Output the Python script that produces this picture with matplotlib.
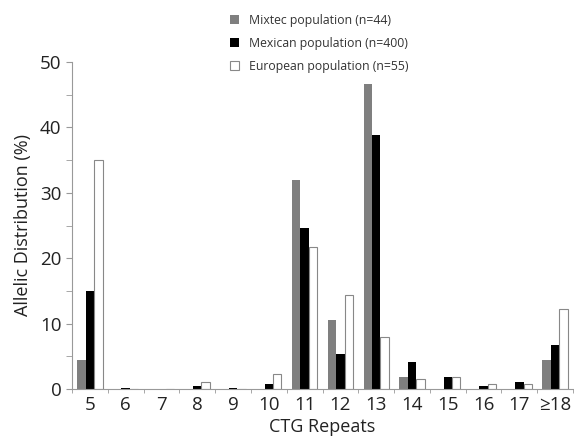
import numpy as np
import matplotlib
matplotlib.use("Agg")
import matplotlib.pyplot as plt
from matplotlib.ticker import MultipleLocator, FixedLocator

plt.rcParams['font.family'] = ['Open Sans', 'DejaVu Sans']

repeats = ['5', '6', '7', '8', '9', '10', '11', '12', '13', '14', '15', '16', '17', '≥18']
mixtec = [4.5, 0, 0, 0, 0, 0, 32.0, 10.5, 46.6, 1.8, 0, 0, 0, 4.5]
mexican = [15.0, 0.1, 0, 0.5, 0.2, 0.7, 24.6, 5.4, 38.8, 4.2, 1.8, 0.5, 1.0, 6.8]
european = [35.0, 0, 0, 1.0, 0, 2.3, 21.7, 14.4, 8.0, 1.5, 1.8, 0.7, 0.7, 12.2]

fig = plt.figure(figsize=(5.74, 4.47), dpi=100)
ax = fig.add_axes([72/574, 1 - 389/447, 501/574, 327/447])

x = np.arange(len(repeats))
w = 0.235
ax.bar(x - w, mixtec, w, color='#7f7f7f', label='Mixtec population (n=44)')
ax.bar(x, mexican, w, color='black', label='Mexican population (n=400)')
ax.bar(x + w, european, w, color='white', edgecolor='#888888', linewidth=0.8,
       label='European population (n=55)')

ax.set_xlim(-0.5, 13.5)
ax.set_ylim(0, 50)
ax.yaxis.set_major_locator(MultipleLocator(10))
ax.yaxis.set_minor_locator(MultipleLocator(5))
ax.set_xticks(x)
ax.set_xticklabels(repeats)
ax.xaxis.set_minor_locator(FixedLocator(np.arange(-0.5, 13.6, 1)))
ax.tick_params(axis='x', which='major', length=0, labelsize=13.5, pad=5, colors='#222222')
ax.tick_params(axis='x', which='minor', length=3, color='#999999')
ax.tick_params(axis='y', which='both', length=4, labelsize=13.5, colors='#222222')
ax.tick_params(axis='y', which='both', color='#999999')

for s in ['top', 'right']:
    ax.spines[s].set_visible(False)
for s in ['left', 'bottom']:
    ax.spines[s].set_color('#999999')
    ax.spines[s].set_linewidth(0.8)

ax.set_ylabel('Allelic Distribution (%)', fontsize=13, color='#222222', labelpad=6)
ax.set_xlabel('CTG Repeats', fontsize=13, color='#222222', labelpad=3)

leg = fig.legend(loc='upper left', bbox_to_anchor=(219/574, 1 - 3/447), frameon=False,
                 fontsize=8.8, handlelength=0.75, handleheight=0.75, handletextpad=0.8,
                 labelspacing=0.8, labelcolor='#333333')

fig.savefig('out.png', dpi=100)
